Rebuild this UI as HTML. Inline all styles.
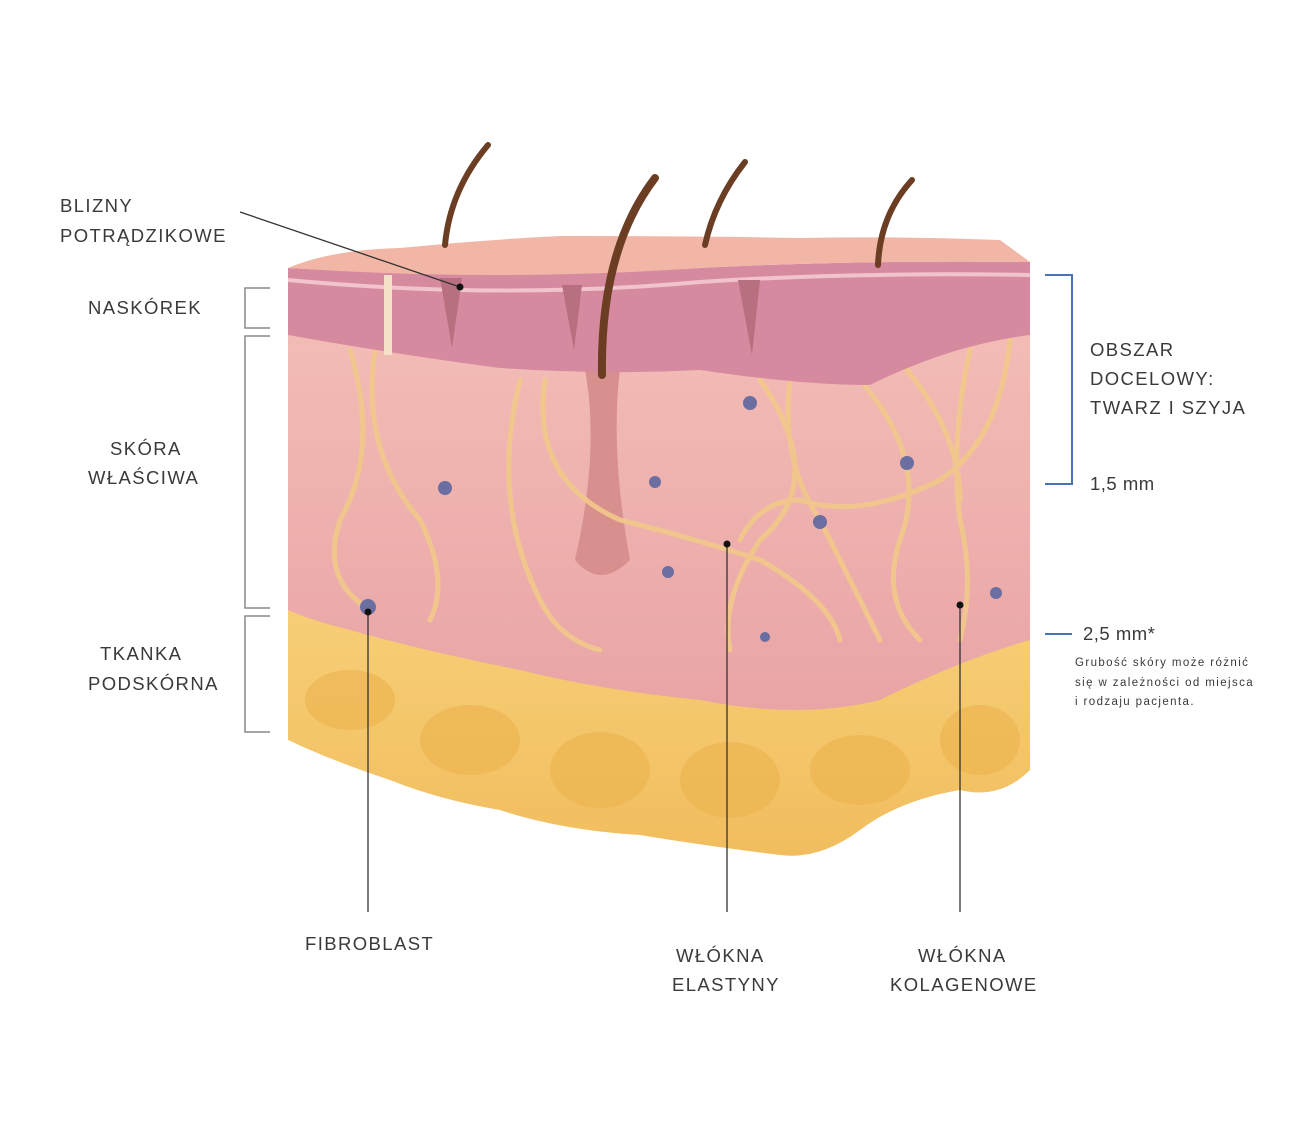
<!DOCTYPE html>
<html><head><meta charset="utf-8"><style>
body{margin:0;background:#fff}
svg{display:block}
text{font-family:"Liberation Sans",sans-serif;fill:#3a3a3a;letter-spacing:1.4px}
</style></head><body>
<svg width="1300" height="1148" viewBox="0 0 1300 1148">
<defs>
<linearGradient id="fat" x1="0" y1="0" x2="0" y2="1"><stop offset="0" stop-color="#f7cf78"/><stop offset="1" stop-color="#f1bd5e"/></linearGradient>
<linearGradient id="derm" x1="0" y1="0" x2="0" y2="1"><stop offset="0" stop-color="#f3bdb6"/><stop offset="1" stop-color="#e9a4a6"/></linearGradient>
</defs>
<path d="M288 600 L1030 620 L1030 770 Q1000 800 960 790 Q900 800 860 830 Q820 860 780 855 Q700 845 640 835 Q560 830 500 810 Q440 800 390 780 Q330 760 288 740 Z" fill="url(#fat)"/>
<g fill="#eeb551" opacity="0.7">
<ellipse cx="350" cy="700" rx="45" ry="30"/><ellipse cx="470" cy="740" rx="50" ry="35"/><ellipse cx="600" cy="770" rx="50" ry="38"/>
<ellipse cx="730" cy="780" rx="50" ry="38"/><ellipse cx="860" cy="770" rx="50" ry="35"/><ellipse cx="980" cy="740" rx="40" ry="35"/>
</g>
<path d="M288 330 L1030 320 L1030 640 Q960 660 880 700 Q800 720 700 700 Q600 690 520 670 Q420 650 350 630 Q310 620 288 610 Z" fill="url(#derm)"/>
<path d="M585 370 Q600 450 575 560 Q600 590 630 560 Q610 450 620 370 Z" fill="#d8908f"/>
<g fill="none" stroke="#f2c98a" stroke-width="5" stroke-linecap="round" opacity="0.9">
<path d="M350 350 Q380 450 340 520 Q320 580 370 610"/>
<path d="M375 350 Q360 450 420 520 Q450 580 430 620"/>
<path d="M520 380 Q490 500 540 600 Q560 640 600 650"/>
<path d="M545 380 Q530 480 620 520 Q700 540 760 560 Q830 600 840 640"/>
<path d="M760 380 Q830 480 760 540 Q720 600 730 650"/>
<path d="M790 380 Q780 460 820 520 Q860 600 880 640"/>
<path d="M860 380 Q930 460 900 540 Q880 600 920 640"/>
<path d="M970 350 Q950 440 960 520 Q975 580 960 640"/>
<path d="M1010 340 Q1000 440 940 480 Q860 520 800 500 Q760 500 740 540"/>
<path d="M880 340 Q960 420 960 500"/>
</g>
<path d="M288 268 Q500 280 700 268 Q850 260 1030 262 L1030 335 Q950 345 870 385 Q800 385 700 370 Q600 375 500 368 Q400 355 288 335 Z" fill="#d68aa0"/>
<path d="M288 280 Q500 300 700 282 Q850 272 1030 275" stroke="#f1c3cc" stroke-width="4" fill="none"/>
<path d="M288 268 Q330 250 400 248 Q480 240 560 236 Q700 236 800 238 Q900 236 1000 240 L1030 262 Q850 260 700 268 Q500 282 288 268 Z" fill="#f1b6a6"/>
<g fill="#b86f80"><path d="M440 278 L462 278 L452 348 Z"/><path d="M562 285 L582 285 L574 350 Z"/><path d="M738 280 L760 280 L752 355 Z"/></g>
<rect x="384" y="275" width="8" height="80" fill="#f5e0c8"/>
<g fill="none" stroke="#6b3d22" stroke-linecap="round">
<path d="M445 245 Q450 190 488 145" stroke-width="6"/>
<path d="M602 375 Q600 250 655 178" stroke-width="8"/>
<path d="M705 245 Q715 200 745 162" stroke-width="6"/>
<path d="M878 265 Q880 215 912 180" stroke-width="6"/>
</g>
<g fill="#6a6ea0"><circle cx="445" cy="488" r="7"/><circle cx="655" cy="482" r="6"/><circle cx="750" cy="403" r="7"/><circle cx="820" cy="522" r="7"/><circle cx="907" cy="463" r="7"/><circle cx="668" cy="572" r="6"/><circle cx="368" cy="607" r="8"/><circle cx="996" cy="593" r="6"/><circle cx="765" cy="637" r="5"/></g>
<g stroke="#333" stroke-width="1.3" fill="none">
<line x1="240" y1="212" x2="460" y2="287"/>
<line x1="368" y1="612" x2="368" y2="912"/>
<line x1="727" y1="544" x2="727" y2="912"/>
<line x1="960" y1="605" x2="960" y2="912"/>
</g>
<g fill="#111"><circle cx="460" cy="287" r="3.5"/><circle cx="368" cy="612" r="3.5"/><circle cx="727" cy="544" r="3.5"/><circle cx="960" cy="605" r="3.5"/></g>
<g stroke="#888" stroke-width="1.5" fill="none">
<path d="M270 288 H245 V328 H270"/>
<path d="M270 336 H245 V608 H270"/>
<path d="M270 616 H245 V732 H270"/>
</g>
<path d="M1045 275 H1072 V484 H1045" stroke="#4a72b8" stroke-width="2" fill="none"/>
<line x1="1045" y1="634" x2="1072" y2="634" stroke="#4a72b8" stroke-width="2"/>
<g font-size="18.5">
<text x="60" y="212">BLIZNY</text><text x="60" y="242">POTRĄDZIKOWE</text>
<text x="88" y="314">NASKÓREK</text>
<text x="110" y="455">SKÓRA</text><text x="88" y="484">WŁAŚCIWA</text>
<text x="100" y="660">TKANKA</text><text x="88" y="690">PODSKÓRNA</text>
<text x="1090" y="356">OBSZAR</text><text x="1090" y="385">DOCELOWY:</text><text x="1090" y="414">TWARZ I SZYJA</text>
<text x="1090" y="490" style="letter-spacing:0.5px">1,5 mm</text>
<text x="1083" y="640" style="letter-spacing:0.5px">2,5 mm*</text>
<text x="305" y="950">FIBROBLAST</text>
<text x="676" y="962">WŁÓKNA</text><text x="672" y="991">ELASTYNY</text>
<text x="918" y="962">WŁÓKNA</text><text x="890" y="991">KOLAGENOWE</text>
</g>
<g font-size="11.5" style="letter-spacing:0">
<text x="1075" y="666">Grubość skóry może różnić</text>
<text x="1075" y="686">się w zależności od miejsca</text>
<text x="1075" y="705">i rodzaju pacjenta.</text>
</g>
</svg>
</body></html>
